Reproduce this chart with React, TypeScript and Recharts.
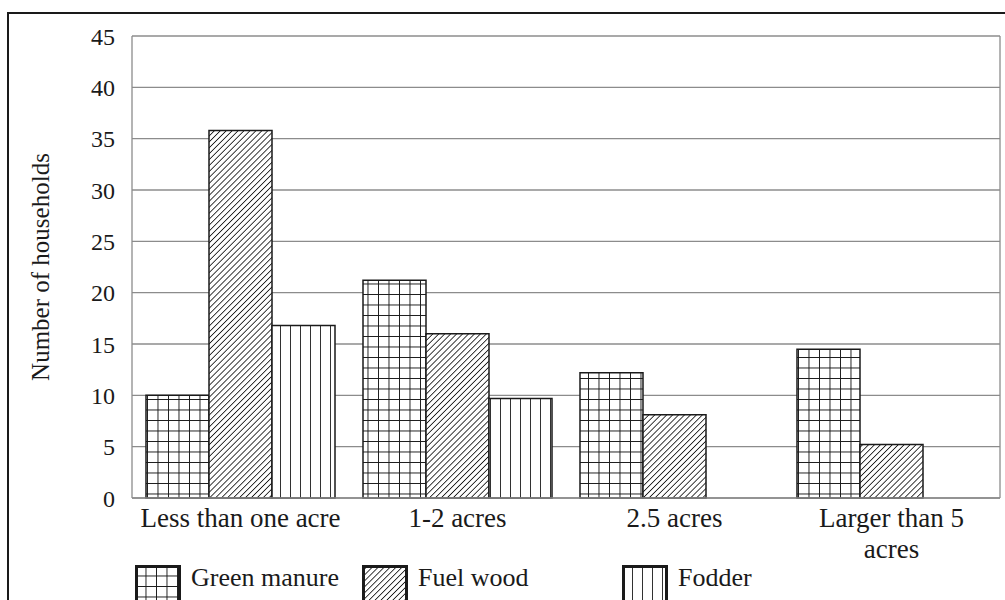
import { Bar, BarChart, CartesianGrid, Label, Legend, XAxis, YAxis } from "recharts";

const categories = ["Less than one acre", "1-2 acres", "2.5 acres", "Larger than 5\nacres"];
const greenManure = [10, 21.2, 12.2, 14.5];
const fuelWood = [35.8, 16, 8.1, 5.2];
const fodder: (number | null)[] = [16.8, 9.7, null, null];
const yTicks = [0, 5, 10, 15, 20, 25, 30, 35, 40, 45];

const FONT = "Liberation Serif";
const GRID = "#8c8c8c";
const INK = "#1a1a1a";

const series = [
  { key: "greenManure", name: "Green manure", fill: "url(#pat-grid)" },
  { key: "fuelWood", name: "Fuel wood", fill: "url(#pat-diag)" },
  { key: "fodder", name: "Fodder", fill: "url(#pat-vert)" },
];

const data = categories.map((label, i) => ({
  label,
  greenManure: greenManure[i],
  fuelWood: fuelWood[i],
  fodder: fodder[i],
}));

// legend items are not evenly spaced in the original
const legendWidths = [227, 260, 200];

function CategoryTick({ x, y, payload }: any) {
  const lines = String(payload.value).split("\n");
  return (
    <text x={x} y={y} textAnchor="middle" style={{ fontFamily: FONT }} fontSize={27} fill={INK}>
      {lines.map((line, i) => (
        <tspan key={i} x={x} dy={i === 0 ? 29 : 31}>
          {line}
        </tspan>
      ))}
    </text>
  );
}

function PatternLegend() {
  return (
    <div style={{ display: "flex", paddingLeft: 135, height: 37, fontFamily: FONT }}>
      {series.map((s, i) => (
        <div key={s.key} style={{ width: legendWidths[i], display: "flex", alignItems: "flex-start" }}>
          <svg width={46} height={40} style={{ marginTop: 2, flex: "none" }}>
            <rect x={1.5} y={1.5} width={43} height={37} fill={s.fill} stroke={INK} strokeWidth={3} />
          </svg>
          <span style={{ marginLeft: 10, marginTop: 2, lineHeight: "26px", fontSize: 26, color: INK }}>
            {s.name}
          </span>
        </div>
      ))}
    </div>
  );
}

export default function App() {
  return (
    <div
      style={{
        position: "absolute",
        left: 0,
        top: 0,
        width: 1005,
        height: 600,
        overflow: "hidden",
        background: "white",
        fontFamily: FONT,
      }}
    >
      <div
        style={{
          position: "absolute",
          left: 7,
          top: 12,
          width: 1100,
          height: 700,
          border: `2px solid ${INK}`,
        }}
      />
      <BarChart
        width={1005}
        height={600}
        data={data}
        margin={{ top: 36, right: 0, bottom: 0, left: 0 }}
        barCategoryGap={14}
        barGap={0}
        style={{ position: "absolute", left: 0, top: 0, fontFamily: FONT }}
      >
        <defs>
          <pattern id="pat-grid" patternUnits="userSpaceOnUse" width={10.5} height={10.5}>
            <rect width={10.5} height={10.5} fill="white" />
            <line x1={0} y1={0} x2={10.5} y2={0} stroke={INK} strokeWidth={1.9} />
            <line x1={0} y1={0} x2={0} y2={10.5} stroke={INK} strokeWidth={1.9} />
          </pattern>
          <pattern
            id="pat-diag"
            patternUnits="userSpaceOnUse"
            width={4.2}
            height={10}
            patternTransform="rotate(45)"
          >
            <rect width={4.2} height={10} fill="white" />
            <line x1={0} y1={0} x2={0} y2={10} stroke={INK} strokeWidth={1.7} />
          </pattern>
          <pattern id="pat-vert" patternUnits="userSpaceOnUse" width={10} height={10}>
            <rect width={10} height={10} fill="white" />
            <line x1={0} y1={0} x2={0} y2={10} stroke={INK} strokeWidth={1.8} />
          </pattern>
        </defs>
        <CartesianGrid vertical={false} stroke={GRID} strokeWidth={1.3} />
        <XAxis
          dataKey="label"
          height={65}
          axisLine={{ stroke: GRID, strokeWidth: 1.3 }}
          tickLine={false}
          tickSize={0}
          tickMargin={0}
          interval={0}
          tick={<CategoryTick />}
        />
        <YAxis
          width={132}
          domain={[0, 45]}
          ticks={yTicks}
          interval={0}
          axisLine={{ stroke: GRID, strokeWidth: 1.3 }}
          tickLine={false}
          tickSize={0}
          tickMargin={17}
          tick={{ fontSize: 24, fill: INK, style: { fontFamily: FONT } }}
        >
          <Label
            value="Number of households"
            angle={-90}
            position="center"
            dx={-26}
            style={{ fontSize: 25, fill: INK, fontFamily: FONT }}
          />
        </YAxis>
        <YAxis
          yAxisId="right"
          orientation="right"
          width={5}
          domain={[0, 45]}
          tick={false}
          tickLine={false}
          axisLine={{ stroke: GRID, strokeWidth: 1.3 }}
        />
        <Legend
          verticalAlign="bottom"
          content={<PatternLegend />}
          wrapperStyle={{ left: 0, width: 1005 }}
        />
        {series.map((s) => (
          <Bar
            key={s.key}
            dataKey={s.key}
            name={s.name}
            fill={s.fill}
            stroke={INK}
            strokeWidth={1.5}
            isAnimationActive={false}
          />
        ))}
      </BarChart>
    </div>
  );
}
